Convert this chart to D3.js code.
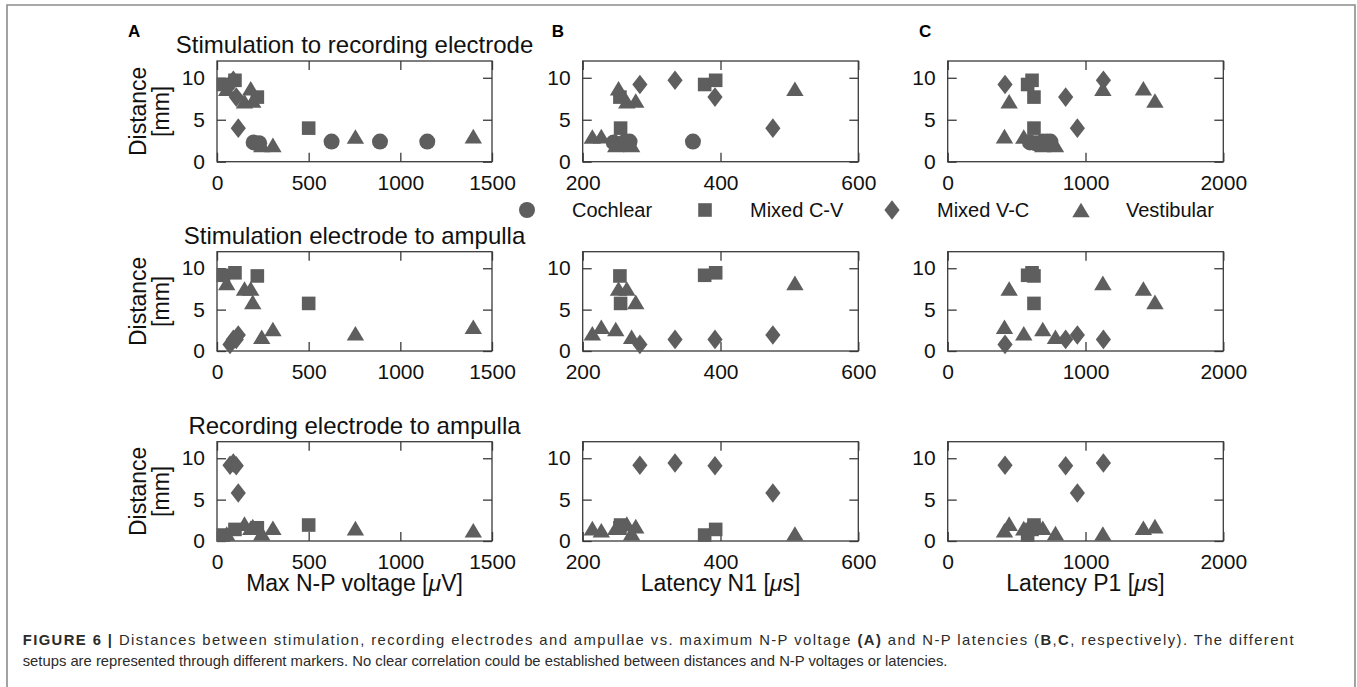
<!DOCTYPE html>
<html><head><meta charset="utf-8">
<script src="https://cdn.jsdelivr.net/npm/d3@7"></script>
<style>
html,body{margin:0;padding:0;background:#fff;}
svg{display:block;font-family:"Liberation Sans",Arial,Helvetica,sans-serif;}
</style></head><body>
<svg id="chart" width="1357" height="687"></svg>
<script>
// ---------------- data ----------------
const setupTypes = ["Cochlear", "Mixed C-V", "Mixed V-C", "Vestibular"];
// one entry per measurement
const setupType = [
  "Cochlear","Cochlear","Cochlear","Cochlear","Cochlear",
  "Mixed C-V","Mixed C-V","Mixed C-V","Mixed C-V",
  "Mixed V-C","Mixed V-C","Mixed V-C","Mixed V-C",
  "Vestibular","Vestibular","Vestibular","Vestibular","Vestibular","Vestibular","Vestibular","Vestibular"
];
const maxVoltage  = [200, 230, 625, 889, 1147,   35, 98, 220, 500,   71, 89, 105, 116,   53, 195, 244, 1398, 305, 755, 184, 150];
const latencyN1   = [245, 258, 268, 360, 262,   377, 393, 254, 255,   283, 334, 392, 476,   508, 277, 271, 227, 248, 214, 252, 264];
const latencyP1   = [597, 640, 690, 720, 745,   580, 612, 626, 626,   416, 1130, 856, 941,   1126, 1504, 782, 412, 690, 552, 1420, 446];
const distStimRec = [2.3, 2.2, 2.4, 2.4, 2.4,   9.2, 9.7, 7.7, 4.0,   9.2, 9.7, 7.7, 4.0,   8.7, 7.3, 2.0, 3.05, 2.0, 3.0, 8.75, 7.2];
const distStimAmp = [NaN, NaN, NaN, NaN, NaN,   9.15, 9.45, 9.07, 5.75,   0.8, 1.4, 1.4, 1.93,   8.23, 5.94, 1.72, 2.93, 2.65, 2.15, 7.55, 7.55];
const distRecAmp  = [NaN, NaN, NaN, NaN, NaN,   0.72, 1.4, 1.6, 1.93,   9.15, 9.43, 9.1, 5.8,   0.9, 1.8, 0.95, 1.3, 1.6, 1.55, 1.6, 2.1];

const rowTitles = ["Stimulation to recording electrode", "Stimulation electrode to ampulla", "Recording electrode to ampulla"];
const panelLetters = ["A", "B", "C"];
const xDomainA = [0, 1500], xDomainB = [200, 600], xDomainC = [0, 2000];
const yDomain = [0, 12];
const xTicksA = [0, 500, 1000, 1500];
const xTicksB = [200, 400, 600];
const xTicksC = [0, 1000, 2000];
const yTicks = [0, 5, 10];
const yLabelLines = ["Distance", "[mm]"];
const xLabelParts = [
  [["Max N-P voltage [", false], ["\u03bc", true], ["V]", false]],
  [["Latency N1 [", false], ["\u03bc", true], ["s]", false]],
  [["Latency P1 [", false], ["\u03bc", true], ["s]", false]]
];
const captionLine1 = [
  ["FIGURE 6 |", true], [" Distances between stimulation, recording electrodes and ampullae vs. maximum N-P voltage ", false],
  ["(A)", true], [" and N-P latencies (", false], ["B", true], [",", false], ["C", true], [", respectively). The different", false]
];
const captionLine2 = [["setups are represented through different markers. No clear correlation could be established between distances and N-P voltages or latencies.", false]];

// ---------------- layout ----------------
const svg = d3.select("#chart");
const markColor = "#5e5e5e";
const axisColor = "#3a3a3a";
const colX = [[217, 492], [582.7, 858.3], [947.7, 1223.3]];
const rowY = [[61, 161.7], [251.7, 351], [441.7, 541]];
const xDomains = [xDomainA, xDomainB, xDomainC];
const xTickSets = [xTicksA, xTicksB, xTicksC];
const xValues = [maxVoltage, latencyN1, latencyP1];
const yValues = [distStimRec, distStimAmp, distRecAmp];
const fmt = d3.format("d");

// outer frame
svg.append("path").attr("d", "M7,687V5H1355V687")
  .attr("fill", "none").attr("stroke", "#8c8c8c").attr("stroke-width", 1.6);

function markerPath(type) {
  if (type === "Cochlear") { const r = 8; return `M${-r},0A${r},${r} 0 1,0 ${r},0A${r},${r} 0 1,0 ${-r},0Z`; }
  if (type === "Mixed C-V") { const s = 6.8; return `M${-s},${-s}H${s}V${s}H${-s}Z`; }
  if (type === "Mixed V-C") { const w = 7.6, h = 9.8; return `M0,${-h}L${w},0L0,${h}L${-w},0Z`; }
  const w = 8.7, h = 7.3; return `M0,${-h}L${w},${h}L${-w},${h}Z`;
}

const tickLen = 9;
for (let r = 0; r < 3; r++) {
  for (let c = 0; c < 3; c++) {
    const x = d3.scaleLinear().domain(xDomains[c]).range(colX[c]);
    const y = d3.scaleLinear().domain(yDomain).range([rowY[r][1], rowY[r][0]]);
    const g = svg.append("g");
    const x0 = colX[c][0], x1 = colX[c][1], y0 = rowY[r][0], y1 = rowY[r][1];

    const bottom = g.append("g").attr("transform", `translate(0,${y1})`)
      .call(d3.axisBottom(x).tickValues(xTickSets[c]).tickFormat(fmt).tickSizeInner(-tickLen).tickSizeOuter(0).tickPadding(13));
    const top = g.append("g").attr("transform", `translate(0,${y0})`)
      .call(d3.axisTop(x).tickValues(xTickSets[c]).tickSizeInner(-tickLen).tickSizeOuter(0).tickFormat(""));
    const left = g.append("g").attr("transform", `translate(${x0},0)`)
      .call(d3.axisLeft(y).tickValues(yTicks).tickFormat(fmt).tickSizeInner(-tickLen).tickSizeOuter(0).tickPadding(12));
    const right = g.append("g").attr("transform", `translate(${x1},0)`)
      .call(d3.axisRight(y).tickValues(yTicks).tickSizeInner(-tickLen).tickSizeOuter(0).tickFormat(""));
    [bottom, top, left, right].forEach(a => {
      a.select(".domain").remove();
      a.selectAll(".tick line").attr("stroke", axisColor).attr("stroke-width", 1.3);
      a.selectAll("text").attr("font-size", 21).attr("fill", "#111").attr("font-family", "Liberation Sans, Arial, sans-serif");
    });
    g.append("rect").attr("x", x0).attr("y", y0).attr("width", x1 - x0).attr("height", y1 - y0)
      .attr("fill", "none").attr("stroke", axisColor).attr("stroke-width", 1.3);

    const idx = d3.range(setupType.length).filter(i => !isNaN(yValues[r][i]) && !isNaN(xValues[c][i]));
    g.selectAll("path.mark").data(idx).join("path").attr("class", "mark")
      .attr("d", i => markerPath(setupType[i]))
      .attr("transform", i => `translate(${x(xValues[c][i])},${y(yValues[r][i])})`)
      .attr("fill", markColor);

    if (c === 0) {
      svg.append("text").attr("x", (x0 + x1) / 2).attr("y", y0 - 8).attr("text-anchor", "middle")
        .attr("font-size", 24).attr("fill", "#111").text(rowTitles[r]);
      const cy = (y0 + y1) / 2;
      yLabelLines.forEach((t, k) => {
        svg.append("text").attr("transform", `translate(${146 + k * 23},${cy}) rotate(-90)`)
          .attr("text-anchor", "middle").attr("font-size", 23).attr("fill", "#111").text(t);
      });
    }
    if (r === 2) {
      const t = svg.append("text").attr("x", (x0 + x1) / 2).attr("y", 591).attr("text-anchor", "middle")
        .attr("font-size", 23).attr("fill", "#111");
      xLabelParts[c].forEach(p => t.append("tspan").attr("font-style", p[1] ? "italic" : "normal").text(p[0]));
    }
  }
}

// panel letters
const letterX = [128, 551.7, 919];
panelLetters.forEach((l, i) => svg.append("text").attr("x", letterX[i]).attr("y", 37)
  .attr("font-size", 17).attr("font-weight", "bold").attr("fill", "#000").text(l));

// legend
const legendMarkX = [527, 705, 892, 1081];
const legendY = 210;
setupTypes.forEach((t, i) => {
  svg.append("path").attr("d", markerPath(t)).attr("transform", `translate(${legendMarkX[i]},${legendY})`).attr("fill", markColor);
  svg.append("text").attr("x", legendMarkX[i] + 45).attr("y", legendY).attr("dy", "0.35em")
    .attr("font-size", 20).attr("fill", "#111").text(t);
});

// caption
function captionLine(parts, yBase) {
  const t = svg.append("text").attr("x", 22.7).attr("y", yBase).attr("font-size", 14.8).attr("fill", "#2b2b2b");
  parts.forEach(p => t.append("tspan").attr("font-weight", p[1] ? "bold" : "normal").text(p[0]));
  return t;
}
const cl1 = captionLine(captionLine1, 645);
captionLine(captionLine2, 666);
// first line is justified to the caption width
const line1Text = captionLine1.map(p => p[0]).join("");
const nChars = line1Text.length;
const natural = cl1.node().getComputedTextLength();
const targetWidth = 1295 - 22.7;
if (natural < targetWidth) cl1.attr("letter-spacing", (targetWidth - natural) / nChars);
</script>
</body></html>
